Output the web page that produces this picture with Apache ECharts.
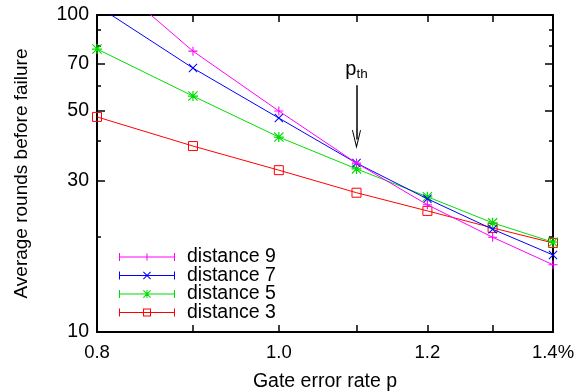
<!DOCTYPE html>
<html>
<head>
<meta charset="utf-8">
<script src="https://cdn.jsdelivr.net/npm/echarts@6/dist/echarts.min.js"></script>
<style>
  html, body {margin: 0; padding: 0; background: #fff;}
  #chart {width: 577px; height: 392px;}
</style>
</head>
<body>
<div id="chart"></div>
<script>
// gate error rates (%)
const rates = [0.8, 0.9, 1.0, 1.1, 1.2, 1.3, 1.4];
// average rounds before failure
const dist9 = [140, 76.9, 49.8, 34.1, 25.2, 19.9, 16.3];
const dist7 = [107, 68.0, 47.3, 34.1, 26.3, 21.1, 17.5];
const dist5 = [78.1, 55.5, 41.2, 32.7, 26.7, 22.1, 19.2];
const dist3 = [47.7, 38.6, 32.4, 27.5, 24.1, 21.3, 19.1];

const xLabels = [0.8, 1.0, 1.2, 1.4];
const xTicks = [0.8, 0.9, 1.0, 1.1, 1.2, 1.3, 1.4];
const yLabels = [10, 30, 50, 70, 100];
const yMinor = [20, 40, 60, 80, 90];

const FONT = '"Liberation Sans", Arial, sans-serif';

// point shapes (gnuplot style)
const plusPath = 'path://M4.4,0H5.6V4.4H10V5.6H5.6V10H4.4V5.6H0V4.4H4.4Z';
const crossPath = 'path://M0,0.8L0.8,0L5,4.2L9.2,0L10,0.8L5.8,5L10,9.2L9.2,10L5,5.8L0.8,10L0,9.2L4.2,5Z';
const starPath = plusPath + crossPath.replace('path://', '');

// legend samples: error bar with caps + point
const barBase = 'M0,3.5H56V4.5H0Z M0,0H1V8H0Z M55,0H56V8H55Z';
const legPlus = 'path://' + barBase + ' M27.5,0.5H28.5V7.5H27.5Z';
const legCross = 'path://' + barBase + ' M24,0.7L24.7,0L28,3.3L31.3,0L32,0.7L28.7,4L32,7.3L31.3,8L28,4.7L24.7,8L24,7.3L27.3,4Z';
const legStar = legCross + ' M27.5,0H28.5V8H27.5Z';
const legSquare = 'path://' + barBase + ' M24,0H32V8H24Z M25,1V7H31V1Z';

const arrowHead = 'path://M5,0L10,18L9,18.4L5,4L1,18.4L0,18Z';

function pairs(vals) {
    return rates.map((r, i) => [r, vals[i]]);
}

const myChart = echarts.init(document.getElementById('chart'));

const xBase = {
    type: 'log',
    logBase: 10,
    min: 0.8,
    max: 1.4,
    gridIndex: 0,
    axisLine: {lineStyle: {color: '#000', width: 2}},
    axisTick: {inside: true, length: 7, customValues: xTicks, lineStyle: {color: '#000', width: 1.5}},
    splitLine: {show: false},
    minorTick: {show: false},
};

const yBase = {
    type: 'log',
    logBase: 10,
    min: 10,
    max: 100,
    gridIndex: 0,
    axisLine: {lineStyle: {color: '#000', width: 2}},
    axisTick: {inside: true, length: 8, customValues: yLabels, lineStyle: {color: '#000', width: 1.5}},
    axisLabel: {show: false},
    splitLine: {show: false},
    minorTick: {show: false},
};

const option = {
    animation: false,
    textStyle: {fontFamily: FONT},
    grid: {left: 97, right: 24, top: 15, bottom: 60, containLabel: false, outerBoundsMode: 'none'},
    xAxis: [
        Object.assign({}, xBase, {
            position: 'bottom',
            name: 'Gate error rate p',
            nameLocation: 'middle',
            nameGap: 40,
            nameTextStyle: {fontSize: 19.5, color: '#000', fontFamily: FONT},
            axisLabel: {
                customValues: xLabels,
                fontSize: 18.5,
                color: '#000',
                fontFamily: FONT,
                margin: 11,
                formatter: v => (Math.abs(v - 1.4) < 1e-6 ? '1.4%' : Number(v).toFixed(1)),
            },
        }),
        Object.assign({}, xBase, {position: 'top', axisLabel: {show: false}}),
    ],
    yAxis: [
        Object.assign({}, yBase, {
            position: 'left',
            name: 'Average rounds before failure',
            nameLocation: 'middle',
            nameGap: 66,
            nameTextStyle: {fontSize: 19, color: '#000', fontFamily: FONT},
            axisLabel: {
                customValues: yLabels,
                fontSize: 19.5,
                color: '#000',
                fontFamily: FONT,
                margin: 8,
            },
        }),
        Object.assign({}, yBase, {position: 'right'}),
        Object.assign({}, yBase, {
            position: 'left',
            axisLine: {show: false},
            axisTick: {inside: true, length: 4, customValues: yMinor, lineStyle: {color: '#000', width: 1.5}},
        }),
        Object.assign({}, yBase, {
            position: 'right',
            axisLine: {show: false},
            axisTick: {inside: true, length: 4, customValues: yMinor, lineStyle: {color: '#000', width: 1.5}},
        }),
    ],
    legend: {
        orient: 'vertical',
        left: 114,
        top: 242,
        itemWidth: 70,
        itemHeight: 8,
        itemGap: -1.5,
        symbolKeepAspect: true,
        textStyle: {fontSize: 19.5, color: '#000', fontFamily: FONT, lineHeight: 19},
        data: [
            {name: 'distance 9', icon: legPlus, itemStyle: {color: '#ff00ff', borderWidth: 0}},
            {name: 'distance 7', icon: legCross, itemStyle: {color: '#0000ff', borderWidth: 0}},
            {name: 'distance 5', icon: legStar, itemStyle: {color: '#00dd00', borderWidth: 0}},
            {name: 'distance 3', icon: legSquare, itemStyle: {color: '#ff0000', borderWidth: 0}},
        ],
    },
    series: [
        {
            name: 'distance 9',
            type: 'line',
            data: pairs(dist9),
            symbol: plusPath,
            symbolSize: 9,
            lineStyle: {color: '#ff00ff', width: 1},
            itemStyle: {color: '#ff00ff'},
            z: 5,
            markLine: {
                silent: true,
                symbol: ['none', arrowHead],
                symbolSize: [9, 19],
                lineStyle: {color: '#000', width: 1.5, type: 'solid'},
                label: {
                    show: true,
                    position: 'start',
                    distance: 4,
                    formatter: '{p|p}{s|th}',
                    rich: {
                        p: {fontSize: 20, color: '#000', fontFamily: FONT},
                        s: {fontSize: 13.5, color: '#000', fontFamily: FONT, padding: [10, 0, 0, 0]},
                    },
                },
                data: [[{coord: [1.1, 60]}, {coord: [1.1, 40.5]}]],
            },
        },
        {
            name: 'distance 7',
            type: 'line',
            data: pairs(dist7),
            symbol: crossPath,
            symbolSize: 9,
            lineStyle: {color: '#0000ff', width: 1},
            itemStyle: {color: '#0000ff'},
            z: 4,
        },
        {
            name: 'distance 5',
            type: 'line',
            data: pairs(dist5),
            symbol: starPath,
            symbolSize: 10,
            lineStyle: {color: '#00dd00', width: 1},
            itemStyle: {color: '#00dd00'},
            z: 3,
        },
        {
            name: 'distance 3',
            type: 'line',
            data: pairs(dist3),
            symbol: 'rect',
            symbolSize: 9,
            lineStyle: {color: '#ff0000', width: 1},
            itemStyle: {color: 'rgba(255,255,255,0)', borderColor: '#ff0000', borderWidth: 1},
            z: 2,
        },
    ],
};

myChart.setOption(option);
window.addEventListener('resize', myChart.resize);
</script>
</body>
</html>
